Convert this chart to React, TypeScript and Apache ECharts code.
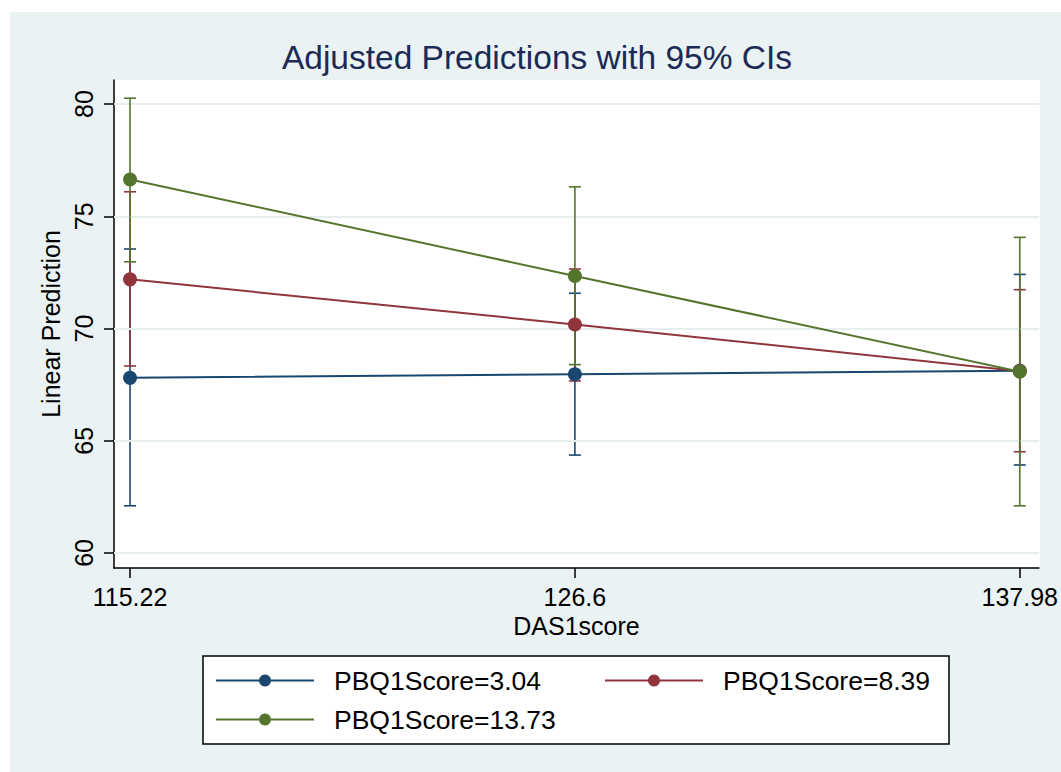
import React, { useEffect, useRef } from "react";
import * as echarts from "echarts";

const xValues = [115.22, 126.6, 137.98];
const yTicks = [60, 65, 70, 75, 80];
const seriesNames = ["PBQ1Score=3.04", "PBQ1Score=8.39", "PBQ1Score=13.73"];
const colors = ["#1a476f", "#90353b", "#55752f"];

const blueMargin = [67.8, 67.96, 68.12];
const blueLo = [62.1, 64.36, 63.92];
const blueHi = [73.54, 71.57, 72.41];

const redMargin = [72.19, 70.18, 68.1];
const redLo = [68.33, 67.66, 64.51];
const redHi = [76.09, 72.65, 71.73];

const greenMargin = [76.64, 72.34, 68.08];
const greenLo = [72.97, 68.39, 62.1];
const greenHi = [80.26, 76.31, 74.06];

const margins = [blueMargin, redMargin, greenMargin];
const los = [blueLo, redLo, greenLo];
const his = [blueHi, redHi, greenHi];

const FONT = "'Liberation Sans', Arial, Helvetica, sans-serif";

export default function App() {
  const ref = useRef<HTMLDivElement>(null);
  useEffect(() => {
    document.body.style.margin = "0";
    if (!ref.current) return;
    const chart = echarts.init(ref.current, undefined, { renderer: "svg" });

    const ciSeries = [0, 1, 2].map((s) => ({
      type: "custom",
      name: "ci" + s,
      z: 3 + s,
      silent: true,
      data: xValues.map((x, i) => [x, los[s][i], his[s][i]]),
      encode: { x: 0, y: [1, 2] },
      renderItem: (params: any, api: any) => {
        const x = api.value(0);
        const lo = api.coord([x, api.value(1)]);
        const hi = api.coord([x, api.value(2)]);
        const hw = 6;
        const style = { stroke: colors[s], lineWidth: 1.6 };
        return {
          type: "group",
          children: [
            { type: "line", shape: { x1: lo[0], y1: lo[1], x2: hi[0], y2: hi[1] }, style },
            { type: "line", shape: { x1: lo[0] - hw, y1: lo[1], x2: lo[0] + hw, y2: lo[1] }, style },
            { type: "line", shape: { x1: hi[0] - hw, y1: hi[1], x2: hi[0] + hw, y2: hi[1] }, style },
          ],
        };
      },
    }));

    const lineSeries = [0, 1, 2].map((s) => ({
      type: "line",
      name: seriesNames[s],
      z: 10 + s,
      data: xValues.map((x, i) => [x, margins[s][i]]),
      symbol: "circle",
      symbolSize: 14,
      itemStyle: { color: colors[s] },
      lineStyle: { color: colors[s], width: 2 },
    }));

    const gridSeries = {
      type: "line",
      name: "grid",
      z: 1,
      data: [],
      silent: true,
      markLine: {
        silent: true,
        symbol: "none",
        label: { show: false },
        lineStyle: { color: "#e6eef0", type: "solid", width: 2 },
        data: yTicks.map((v) => ({ yAxis: v })),
      },
    };

    const legendCommon = {
      orient: "vertical",
      top: 667,
      padding: 0,
      itemGap: 12,
      itemWidth: 98,
      itemHeight: 15,
      textStyle: { fontFamily: FONT, fontSize: 26.5, color: "#000", padding: [0, 0, 0, 15] },
      selectedMode: false,
    };

    const option: any = {
      animation: false,
      textStyle: { fontFamily: FONT },
      title: {
        text: "Adjusted Predictions with 95% CIs",
        left: 532,
        textAlign: "center",
        top: 35,
        textStyle: { fontFamily: FONT, fontSize: 33.5, fontWeight: "normal", color: "#1c2a55" },
      },
      graphic: [
        { type: "rect", z: -10, shape: { x: 10, y: 12, width: 1051, height: 760 }, style: { fill: "#eaf2f3" } },
        { type: "rect", z: -9, shape: { x: 114, y: 80, width: 926, height: 488 }, style: { fill: "#ffffff" } },
        {
          type: "rect",
          z: -8,
          shape: { x: 203, y: 656, width: 746, height: 88 },
          style: { fill: "#ffffff", stroke: "#000000", lineWidth: 1.5 },
        },
      ],
      grid: { left: 114, top: 80, width: 926, height: 488, containLabel: false },
      xAxis: {
        type: "value",
        min: 114.81,
        max: 138.47,
        name: "DAS1score",
        nameLocation: "middle",
        nameGap: 42,
        nameTextStyle: { fontFamily: FONT, fontSize: 25, color: "#000" },
        axisLine: { show: true, lineStyle: { color: "#000", width: 1.5 } },
        axisTick: { show: true, length: 10, customValues: xValues, lineStyle: { color: "#000", width: 1.5 } },
        axisLabel: {
          customValues: xValues,
          margin: 16,
          fontFamily: FONT,
          fontSize: 25,
          color: "#000",
          formatter: (v: number) => String(v),
        },
        splitLine: { show: false },
      },
      yAxis: {
        type: "value",
        min: 59.33,
        max: 81.07,
        name: "Linear Prediction",
        nameLocation: "middle",
        nameRotate: 90,
        nameGap: 45,
        nameTextStyle: { fontFamily: FONT, fontSize: 25, color: "#000" },
        axisLine: { show: true, lineStyle: { color: "#000", width: 1.5 } },
        axisTick: { show: true, length: 10, customValues: yTicks, lineStyle: { color: "#000", width: 1.5 } },
        axisLabel: {
          customValues: yTicks,
          rotate: 90,
          margin: 18,
          fontFamily: FONT,
          fontSize: 25,
          color: "#000",
        },
        splitLine: { show: false },
      },
      legend: [
        { ...legendCommon, left: 215, data: [seriesNames[0], seriesNames[2]] },
        { ...legendCommon, left: 604, data: [seriesNames[1]] },
      ],
      series: [gridSeries, ...ciSeries, ...lineSeries],
    };
    chart.setOption(option);
    return () => chart.dispose();
  }, []);
  return <div ref={ref} style={{ width: 1061, height: 772 }} />;
}
